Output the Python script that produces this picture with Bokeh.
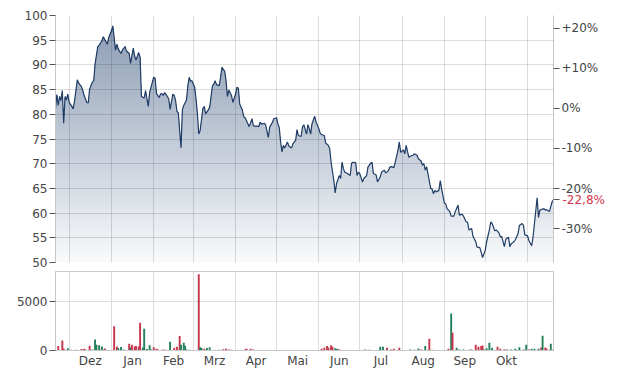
import numpy as np
import pandas as pd
from bokeh.plotting import figure
from bokeh.layouts import column
from bokeh.models import Range1d, LinearAxis, FixedTicker
from bokeh.embed import file_html
from bokeh.resources import INLINE

START = pd.Timestamp("2023-11-21")
END = pd.Timestamp("2024-11-20")

# ---- price series (days since START, close) ----
price_day = [0, 1, 2, 3, 4, 5, 6, 7, 8, 9, 10, 12, 13, 14, 16, 17, 19, 20, 21, 23, 24, 25, 27, 28, 29, 31, 32, 34, 35, 36,
             38, 39, 41, 42, 44, 45, 46, 48, 49, 51, 52, 54, 55, 57, 58, 59, 61, 62, 63, 65, 66, 68, 69, 71, 72, 73, 74, 76, 77, 78,
             79, 80, 82, 83, 84, 86, 87, 88, 89, 90, 92, 93, 94, 96, 97, 98, 99, 100, 102, 103, 104, 105, 106, 108, 109, 110, 112, 113, 115, 116,
             117, 118, 120, 121, 122, 124, 125, 126, 127, 129, 130, 132, 133, 134, 135, 137, 138, 139, 141, 142, 144, 145, 146, 148, 149, 150, 151, 153, 154, 156,
             157, 159, 160, 162, 163, 164, 165, 166, 167, 168, 170, 171, 173, 174, 176, 177, 178, 180, 181, 182, 184, 185, 186, 187, 188, 190, 191, 193, 194, 195,
             197, 198, 200, 201, 202, 204, 205, 206, 208, 209, 210, 211, 212, 214, 216, 217, 218, 220, 221, 222, 223, 225, 226, 228, 229, 231, 232, 233, 235, 236,
             238, 239, 241, 242, 244, 245, 246, 248, 249, 251, 252, 253, 255, 256, 257, 259, 260, 262, 263, 265, 266, 268, 269, 270, 271, 272, 274, 275, 276, 277,
             278, 279, 281, 282, 283, 285, 286, 287, 289, 290, 292, 293, 295, 296, 298, 299, 301, 302, 303, 305, 306, 308, 309, 311, 312, 313, 315, 316, 318, 319,
             320, 322, 323, 325, 326, 327, 329, 330, 332, 333, 334, 336, 337, 339, 340, 342, 343, 344, 346, 347, 349, 350, 351, 353, 354, 355, 357, 358, 359, 360,
             362, 363, 364, 365]
price = [81.2, 84.0, 81.8, 83.6, 82.8, 84.8, 78.2, 83.6, 82.9, 84.1, 82.4, 81.6, 81.1, 82.8, 87.0, 86.3, 85.6, 84.8, 83.8, 82.4, 82.3, 85.1, 86.5, 86.8, 90.2, 93.7, 94.0, 94.9, 95.7, 95.2,
         94.2, 95.5, 96.9, 97.9, 93.0, 94.2, 93.2, 92.3, 93.0, 93.7, 92.8, 92.3, 90.3, 93.4, 91.8, 91.0, 92.5, 91.5, 83.6, 83.3, 84.8, 81.6, 84.4, 86.5, 87.5, 87.3, 84.2, 83.4, 84.1, 84.2,
         83.8, 84.4, 83.6, 83.1, 81.0, 84.1, 83.8, 82.8, 80.6, 80.3, 73.2, 80.9, 81.8, 82.9, 85.8, 87.5, 86.7, 86.8, 85.5, 83.1, 80.1, 76.0, 76.7, 81.1, 81.6, 80.1, 80.9, 81.4, 85.7, 86.1,
         86.8, 86.0, 85.8, 87.5, 89.5, 88.7, 86.8, 83.6, 84.9, 83.8, 82.4, 84.1, 85.5, 85.3, 82.1, 80.8, 79.5, 79.3, 78.1, 77.5, 79.1, 77.7, 77.6, 77.6, 77.5, 78.4, 78.0, 78.2, 77.9, 75.3,
         77.4, 78.4, 79.1, 79.3, 78.1, 77.3, 74.4, 72.4, 73.7, 73.2, 74.4, 73.6, 73.2, 74.0, 74.7, 76.9, 75.7, 75.5, 77.4, 77.9, 76.0, 77.9, 77.1, 76.0, 78.1, 79.6, 78.4, 77.1, 76.2, 75.9,
         75.7, 74.2, 73.7, 73.0, 70.3, 66.6, 64.1, 66.0, 67.6, 67.0, 70.3, 69.0, 68.3, 68.0, 67.6, 70.1, 70.3, 70.2, 67.6, 68.3, 68.0, 66.3, 67.0, 67.6, 69.3, 70.1, 70.3, 68.0, 67.7, 66.3,
         67.3, 68.3, 68.7, 68.1, 68.6, 69.3, 69.4, 69.2, 70.3, 72.7, 74.4, 72.3, 72.8, 72.0, 73.7, 71.3, 71.5, 71.7, 72.0, 71.7, 71.0, 70.5, 69.7, 70.0, 68.7, 69.4, 66.5, 65.0, 64.9, 63.9,
         64.6, 64.3, 64.6, 66.6, 64.9, 62.0, 61.9, 60.9, 60.3, 59.4, 59.4, 60.3, 61.6, 59.6, 59.8, 59.4, 58.2, 58.2, 56.6, 56.9, 55.3, 54.2, 53.1, 53.0, 52.1, 51.0, 52.5, 54.2, 56.6, 58.2,
         57.9, 56.4, 56.6, 56.0, 55.2, 55.3, 53.2, 54.7, 55.1, 53.2, 53.8, 54.2, 54.6, 55.8, 57.5, 57.9, 57.5, 55.6, 55.4, 54.4, 53.4, 55.1, 57.8, 63.1, 59.1, 60.6, 60.8, 60.9, 60.6, 60.7,
         60.3, 61.3, 62.3, 62.7]

# ---- volume (days since START, volume, direction) ----
vol_day = [2, 5, 6, 9, 11, 13, 15, 19, 21, 22, 25, 27, 29, 30, 32, 34, 36, 37, 43, 45, 46, 48, 50, 54, 55, 56, 58, 59, 61, 62,
           64, 65, 67, 69, 70, 72, 74, 75, 79, 81, 84, 87, 89, 91, 92, 94, 95, 96, 98, 105, 106, 107, 109, 111, 113, 120, 123, 125, 127, 129,
           139, 140, 143, 145, 150, 153, 156, 160, 165, 167, 170, 176, 178, 182, 187, 195, 197, 199, 200, 202, 203, 205, 206, 207, 208, 221, 227, 230, 238, 240,
           243, 246, 248, 252, 260, 263, 266, 268, 271, 274, 276, 288, 290, 291, 294, 296, 299, 304, 305, 308, 310, 312, 313, 314, 316, 318, 320, 324, 326, 329,
           331, 334, 337, 340, 343, 345, 347, 349, 351, 354, 356, 357, 359, 360, 363, 365]
volume = [450, 1035, 200, 240, 80, 60, 80, 150, 180, 100, 480, 100, 1140, 590, 550, 400, 200, 80, 2480, 400, 250, 350, 100, 690, 300, 590, 400, 450, 400, 2860,
          300, 2240, 150, 550, 100, 345, 180, 100, 100, 70, 900, 275, 380, 1480, 590, 790, 480, 100, 80, 7830, 345, 250, 170, 250, 345, 70, 130, 170, 100, 70,
          100, 170, 170, 100, 50, 60, 50, 60, 50, 60, 40, 50, 60, 40, 40, 170, 275, 450, 310, 550, 380, 240, 170, 120, 100, 50, 100, 70, 380, 380,
          275, 100, 170, 275, 100, 70, 200, 100, 450, 1200, 70, 170, 3800, 1830, 275, 100, 100, 100, 70, 590, 380, 450, 520, 100, 240, 790, 275, 380, 170, 140,
          100, 100, 170, 345, 100, 590, 100, 170, 170, 170, 310, 1520, 310, 170, 690, 100]
vol_dir = ["d", "d", "d", "u", "u", "u", "u", "d", "d", "d", "d", "u", "u", "u", "u", "u", "d", "u", "d", "d", "u", "u", "u", "d", "u", "d", "d", "d", "d", "d",
           "u", "u", "u", "u", "u", "d", "d", "d", "d", "d", "u", "d", "d", "d", "u", "u", "u", "u", "u", "d", "u", "u", "d", "u", "u", "u", "d", "d", "d", "d",
           "d", "d", "d", "d", "d", "u", "u", "u", "u", "u", "u", "d", "d", "d", "u", "d", "d", "d", "d", "d", "d", "u", "u", "u", "d", "u", "u", "u", "u", "u",
           "d", "d", "d", "d", "u", "u", "u", "d", "u", "d", "d", "d", "u", "d", "u", "u", "u", "u", "d", "d", "d", "d", "d", "u", "u", "u", "u", "d", "d", "d",
           "u", "u", "u", "u", "u", "u", "d", "u", "u", "u", "d", "u", "d", "d", "u", "u"]

month_labels = ["Dez", "Jan", "Feb", "Mrz", "Apr", "Mai", "Jun", "Jul", "Aug", "Sep", "Okt"]
price_ticks = [50, 55, 60, 65, 70, 75, 80, 85, 90, 95, 100]
pct_ticks = [-30, -20, -10, 0, 10, 20]
vol_ticks = [0, 5000]

FONT = "DejaVu Sans"
TXT = "#444444"
AXIS = "#c8c8c8"
LINE = "#1f3d66"
FILL_RGB = (44, 74, 118)
RED = "#c6354c"
GREEN = "#23815a"


def ms(t):
    return pd.Timestamp(t).timestamp() * 1000.0


dates = START + pd.to_timedelta(price_day, unit="D")
pr = np.array(price, dtype=float)
base = pr[0]
pct_last = round((pr[-1] / base - 1) * 100, 2)
y_lo, y_hi = price_ticks[0], price_ticks[-1]

month_starts = pd.date_range("2023-12-01", "2024-11-01", freq="MS")
ms_starts = [ms(t) for t in month_starts]
ms_mids = [(ms_starts[i] + ms_starts[i + 1]) / 2 for i in range(len(month_labels))]

# ---------------- price panel ----------------
p1 = figure(width=622, height=271, output_backend="svg", toolbar_location=None,
            x_range=Range1d(start=ms(START), end=ms(END)), y_range=Range1d(y_lo, y_hi),
            min_border_left=55, min_border_right=69, min_border_top=15, min_border_bottom=9,
            x_axis_type="datetime")
p1.outline_line_color = None
p1.background_fill_color = "white"
p1.border_fill_color = "white"
p1.xaxis.visible = False
p1.xgrid.ticker = FixedTicker(ticks=ms_starts)
p1.ygrid.ticker = FixedTicker(ticks=price_ticks[:-1])
p1.grid.grid_line_color = "#000000"
p1.grid.grid_line_alpha = 0.135
p1.grid.level = "overlay"

# vertical gradient fill: opaque bands drawn bottom-up, each from its level up to the line
levels = np.arange(50.0, 99.0, 1.0)
for a in levels:
    f = 0.035 + (a - 50.0) * 0.0106
    col = "#%02x%02x%02x" % tuple(int(round(255 - f * (255 - c))) for c in FILL_RGB)
    p1.varea(x=dates, y1=np.minimum(pr, a), y2=pr, fill_color=col, fill_alpha=1.0)
p1.line(dates, pr, line_color=LINE, line_width=1.2)

ax = p1.yaxis[0]
ax.ticker = FixedTicker(ticks=price_ticks)

p1.extra_y_ranges = {"pct": Range1d(start=(y_lo / base - 1) * 100, end=(y_hi / base - 1) * 100)}
rax = LinearAxis(y_range_name="pct")
rax.ticker = FixedTicker(ticks=pct_ticks + [pct_last])
overrides = {t: (("+" if t > 0 else "") + f"{t}%") for t in pct_ticks}
overrides[pct_last] = ""
rax.major_label_overrides = overrides
p1.add_layout(rax, "right")

for a_ in (ax, rax):
    a_.axis_line_color = AXIS
    a_.major_tick_line_color = "#555555"
    a_.major_tick_out = 6
    a_.major_tick_in = 0
    a_.minor_tick_line_color = None
    a_.major_label_standoff = 2
    a_.major_label_text_font = FONT
    a_.major_label_text_font_size = "12px"
    a_.major_label_text_color = TXT

# red label of the latest change: a second right axis whose label is pulled back next to the tick
lax = LinearAxis(y_range_name="pct")
lax.ticker = FixedTicker(ticks=[pct_last])
lax.major_label_overrides = {pct_last: f"{pct_last:.1f}".replace(".", ",") + "%"}
lax.axis_line_color = None
lax.major_tick_line_color = None
lax.minor_tick_line_color = None
lax.major_tick_out = 0
lax.major_tick_in = 0
lax.major_label_standoff = -39
lax.major_label_text_font = FONT
lax.major_label_text_font_size = "12px"
lax.major_label_text_color = "#d2374f"
p1.add_layout(lax, "right")

# ---------------- volume panel ----------------
vdates = START + pd.to_timedelta(vol_day, unit="D")
vcolors = [RED if d == "d" else GREEN for d in vol_dir]
p2 = figure(width=622, height=106, output_backend="svg", toolbar_location=None,
            x_range=p1.x_range, y_range=Range1d(0, 8110),
            min_border_left=55, min_border_right=69, min_border_top=0, min_border_bottom=27,
            x_axis_type="datetime")
p2.outline_line_color = AXIS
p2.background_fill_color = "white"
p2.vbar(x=vdates, top=volume, width=1.4 * 86400000, fill_color=vcolors, line_color=None)
p2.xgrid.ticker = FixedTicker(ticks=ms_starts)
p2.ygrid.ticker = FixedTicker(ticks=[5000])
p2.grid.grid_line_color = "#dddddd"

yax = p2.yaxis[0]
yax.ticker = FixedTicker(ticks=vol_ticks)
yax.major_label_overrides = {0: "0", 5000: "5000"}
yax.axis_line_color = AXIS
yax.major_tick_line_color = "#555555"
yax.major_tick_out = 6
yax.major_tick_in = 0
yax.minor_tick_line_color = None
yax.major_label_standoff = 2

xax = p2.xaxis[0]
xax.ticker = FixedTicker(ticks=ms_mids)
xax.major_label_overrides = {m: lab for m, lab in zip(ms_mids, month_labels)}
xax.axis_line_color = AXIS
xax.major_tick_line_color = None
xax.major_tick_out = 0
xax.major_tick_in = 0
xax.minor_tick_line_color = None
xax.major_label_standoff = 3

for a_ in (yax, xax):
    a_.major_label_text_font = FONT
    a_.major_label_text_font_size = "12px"
    a_.major_label_text_color = TXT

layout = column(p1, p2, spacing=0)
open("out.html", "w").write(file_html(layout, INLINE))
